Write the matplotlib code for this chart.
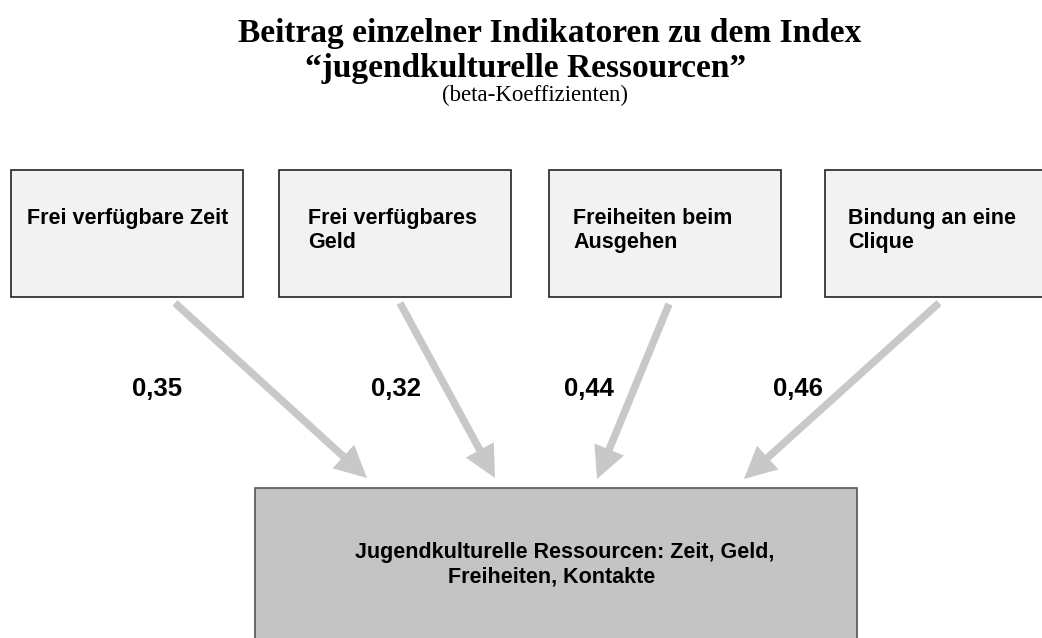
import matplotlib
matplotlib.use("Agg")
import matplotlib.pyplot as plt
from matplotlib.patches import Rectangle, FancyArrowPatch

# ---- content ----
title_line1 = "Beitrag einzelner Indikatoren zu dem Index"
title_line2 = "\u201cjugendkulturelle Ressourcen\u201d"
subtitle = "(beta-Koeffizienten)"
indicators = [["Frei verfügbare Zeit"], ["Frei verfügbares", "Geld"],
              ["Freiheiten beim", "Ausgehen"], ["Bindung an eine", "Clique"]]
coefficients = [0.35, 0.32, 0.44, 0.46]
target_lines = ["Jugendkulturelle Ressourcen: Zeit, Geld,", "Freiheiten, Kontakte"]

# ---- layout (pixel coordinates, y downward) ----
W, H = 1042, 638
box_left = [11, 279, 549, 825]
box_width = [232, 232, 232, 232]
box_top, box_bottom = 170, 297
text_left = [27, 308, 573, 848]
text_baselines = [224, 248]
label_left = [132, 371, 564, 773]
arrow_start = [(175, 303), (400, 303), (669, 304), (939, 303)]
arrow_end = [(367, 478), (495, 478), (597, 479), (744, 479)]
target_left = [355, 448]
target_baselines = [558, 582]

fig = plt.figure(figsize=(W / 100, H / 100), dpi=100)
ax = fig.add_axes([0, 0, 1, 1])
ax.set_xlim(0, W)
ax.set_ylim(H, 0)
ax.axis("off")

serif = "Liberation Serif"
sans = "Liberation Sans"

ax.text(238, 42, title_line1, fontfamily=serif, fontweight="bold", fontsize=24,
        ha="left", va="baseline")
ax.text(305, 77, title_line2, fontfamily=serif, fontweight="bold", fontsize=24,
        ha="left", va="baseline")
ax.text(442, 101, subtitle, fontfamily=serif, fontsize=16.5,
        ha="left", va="baseline")

for i, lines in enumerate(indicators):
    ax.add_patch(Rectangle((box_left[i], box_top), box_width[i], box_bottom - box_top,
                           facecolor="#f2f2f2", edgecolor="#222222", linewidth=1.2,
                           zorder=2))
    for j, line in enumerate(lines):
        ax.text(text_left[i], text_baselines[j], line, fontfamily=sans,
                fontweight="bold", fontsize=15.5, ha="left", va="baseline", zorder=3)

for i, v in enumerate(coefficients):
    ax.add_patch(FancyArrowPatch(arrow_start[i], arrow_end[i],
                                 arrowstyle="simple,head_length=1.15,head_width=1.15,tail_width=0.27",
                                 mutation_scale=20, color="#c8c8c8", linewidth=0,
                                 shrinkA=0, shrinkB=0, zorder=1))
    ax.text(label_left[i], 396, f"{v:.2f}".replace(".", ","), fontfamily=sans,
            fontweight="bold", fontsize=18.5, ha="left", va="baseline")

ax.add_patch(Rectangle((255, 488), 602, 170, facecolor="#c4c4c4",
                       edgecolor="#555555", linewidth=1.2, zorder=2))
for j, line in enumerate(target_lines):
    ax.text(target_left[j], target_baselines[j], line, fontfamily=sans,
            fontweight="bold", fontsize=15.5, ha="left", va="baseline", zorder=3)

fig.savefig("out.png", dpi=100, facecolor="white")
